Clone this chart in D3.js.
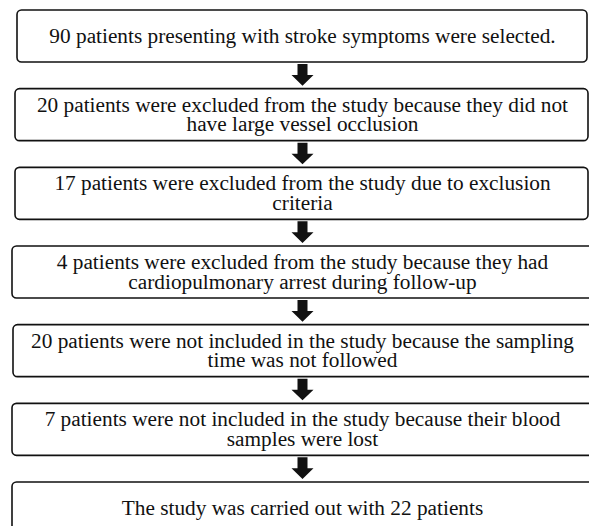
<!DOCTYPE html>
<html>
<head>
<meta charset="utf-8">
<script src="https://cdn.jsdelivr.net/npm/d3@7"></script>
<style>
  html, body { margin: 0; padding: 0; background: #fff; }
  svg { display: block; }
</style>
</head>
<body>
<svg id="chart" width="589" height="526"></svg>
<script>
// ---- data ----
const steps = [
  ["90 patients presenting with stroke symptoms were selected."],
  ["20 patients were excluded from the study because they did not", "have large vessel occlusion"],
  ["17 patients were excluded from the study due to exclusion", "criteria"],
  ["4 patients were excluded from the study because they had", "cardiopulmonary arrest during follow-up"],
  ["20 patients were not included in the study because the sampling", "time was not followed"],
  ["7 patients were not included in the study because their blood", "samples were lost"],
  ["The study was carried out with 22 patients"]
];

// ---- layout ----
const boxLeft = [17, 15, 15, 12, 13, 12, 12];
const boxRight = [587, 588, 588, 600, 600, 600, 600];
const boxH = 52;
const cx = 302.5;

const svg = d3.select("#chart");
const y = d3.scaleLinear().domain([0, steps.length - 1]).range([10, 482]);

const g = svg.selectAll("g.step").data(steps).join("g").attr("class", "step");

g.append("rect")
  .attr("x", (d, i) => boxLeft[i])
  .attr("y", (d, i) => y(i))
  .attr("width", (d, i) => boxRight[i] - boxLeft[i])
  .attr("height", boxH)
  .attr("rx", 4.5).attr("ry", 4.5)
  .attr("fill", "#fff")
  .attr("stroke", "#111")
  .attr("stroke-width", 1.6);

g.each(function (lines, i) {
  const top = y(i);
  const base = lines.length === 1 ? top + 32.5 : top + 23;
  d3.select(this).selectAll("text").data(lines).join("text")
    .attr("x", cx)
    .attr("y", (l, j) => base + j * 19.5)
    .attr("text-anchor", "middle")
    .style("font-family", "'Liberation Serif', 'Times New Roman', serif")
    .attr("font-size", 21.3)
    .attr("fill", "#111")
    .text(l => l);
});

// arrows between boxes
const arrows = d3.range(steps.length - 1);
svg.selectAll("path.arrow").data(arrows).join("path")
  .attr("class", "arrow")
  .attr("fill", "#111")
  .attr("d", i => {
    const t = y(i) + boxH + 2;
    const tip = y(i + 1) - 3;
    const hs = t + 11;
    const sw = 5, hw = 11;
    return `M${cx - sw},${t}L${cx + sw},${t}L${cx + sw},${hs}L${cx + hw},${hs}L${cx},${tip}L${cx - hw},${hs}L${cx - sw},${hs}Z`;
  });
</script>
</body>
</html>
